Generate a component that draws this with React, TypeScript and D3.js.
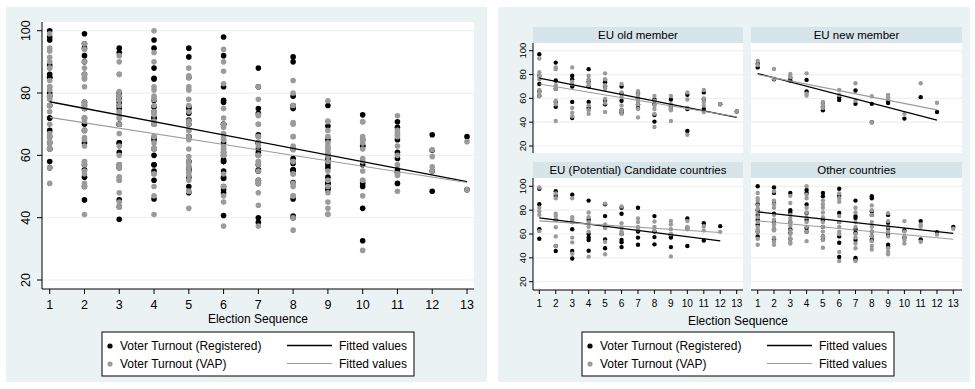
import React from "react";
import * as d3 from "d3";

type Pt = [number, number];
type Col = [number, number[]];

// ---------- data (election sequence, turnout %) ----------
const seqTicks = [1, 2, 3, 4, 5, 6, 7, 8, 9, 10, 11, 12, 13];
const yTicks = [20, 40, 60, 80, 100];
const panelTitles = ["EU old member", "EU new member", "EU (Potential) Candidate countries", "Other countries"];
const xTitle = "Election Sequence";
const legendLabels = ["Voter Turnout (Registered)", "Voter Turnout (VAP)", "Fitted values", "Fitted values"];

const oldReg: Col[] = [
  [1, [97, 79, 72, 66, 62]], [2, [90, 75, 68, 57, 53]], [3, [79, 76, 70, 57, 43.5]],
  [4, [84.5, 74, 70, 57, 52]], [5, [75.5, 73.5, 70, 58, 55]], [6, [70, 64, 58, 50, 48]],
  [7, [64, 60, 55, 52]], [8, [59, 55.4, 46, 40.5]], [9, [59, 53, 51]], [10, [63, 51, 32.6]],
  [11, [65, 59, 51]], [12, [55]], [13, [49]],
];
const oldVap: Col[] = [
  [1, [93.5, 82, 79, 76, 67, 64.5, 62]], [2, [86, 84.5, 71, 68, 58, 55, 41]], [3, [86, 74, 72, 52, 48, 45]],
  [4, [79, 76, 73, 71, 54, 50, 47]], [5, [81, 76, 71, 68, 59.6, 56, 48.5]], [6, [72, 65, 61, 54, 50, 47]],
  [7, [66, 63, 60, 58, 55, 51, 44]], [8, [62, 58, 54, 51, 47, 36]], [9, [62, 55, 52, 50, 41]],
  [10, [65, 59, 52, 29.5]], [11, [67, 60, 57, 54, 48.5]], [12, [55]], [13, [49]],
];
const newReg: Col[] = [
  [1, [89, 86]], [2, [76]], [3, [75, 77]], [4, [75.5, 65.7]], [5, [56, 53, 50]], [6, [58.6, 61]],
  [7, [66.6, 55.4]], [8, [55.4, 40]], [9, [56, 58]], [10, [43]], [11, [61]], [12, [48.5]],
];
const newVap: Col[] = [
  [1, [91.5, 88]], [2, [84.7, 76.5]], [3, [80.5, 79, 77.7]], [4, [81, 64, 62.4]], [5, [57, 54.5, 52]],
  [6, [67, 62.8]], [7, [72.7, 58]], [8, [61.8, 40]], [9, [62.9, 61, 59.6]], [10, [47]], [11, [72.7]], [12, [56.3]],
];
const candReg: Col[] = [
  [1, [98, 85, 64, 56]], [2, [95.8, 92, 72, 50, 45.7]], [3, [93, 70, 64, 45.7, 39.5]],
  [4, [88, 72, 60, 57, 55, 46]], [5, [85, 75, 66, 55.4, 48]], [6, [82, 77, 60, 55, 53, 49]],
  [7, [82, 62, 57, 51]], [8, [75, 62, 57.4, 51.3]], [9, [59, 57, 49]], [10, [73, 65, 50]],
  [11, [69, 54.6]], [12, [66.6]],
];
const candVap: Col[] = [
  [1, [99, 82, 79, 76, 62.4]], [2, [94, 90, 77, 75, 72, 65.7, 58, 50]], [3, [90, 74, 72, 70, 57, 53, 43.4]],
  [4, [78, 74, 70, 66, 62, 41]], [5, [85.5, 68, 65, 53.5, 43]], [6, [83, 69, 65, 62, 60]],
  [7, [73, 70, 66, 64]], [8, [70.5, 66, 63]], [9, [71, 68, 64, 60, 41.2]], [10, [70.8, 66, 64]],
  [11, [66.6, 63]], [12, [61.8]],
];
const otherReg: Col[] = [
  [1, [100, 85, 80, 76, 72, 68, 62, 58]], [2, [99, 94.4, 86, 77, 70, 64, 55.4]], [3, [94.4, 80, 78, 70, 64, 61, 56]],
  [4, [97, 94.4, 84.7, 77.7, 72, 65, 62]], [5, [94.4, 91.6, 71.3, 66, 58, 55.4]], [6, [98, 92, 77.7, 70, 58, 52.6, 40.7]],
  [7, [88, 75, 73.5, 64, 61, 55, 40, 38.5]], [8, [91.6, 90, 79, 76, 62, 58, 55]], [9, [76, 69.4, 65, 60, 51, 49.5]],
  [10, [63, 57]], [11, [70.8, 55.4]], [12, [61.6]], [13, [66]],
];
const otherVap: Col[] = [
  [1, [94.4, 90, 88, 84, 81, 78, 74, 70, 66, 64, 62, 56, 51]], [2, [95.8, 88, 85, 82, 76, 72, 68, 65, 63, 57, 54, 51]],
  [3, [92, 86, 76, 73, 70, 67, 63, 60, 56, 53, 52]], [4, [100, 93, 90, 82, 78, 74, 70, 66, 62, 54]],
  [5, [88, 85, 82, 78, 74, 70, 66, 62, 58, 55, 48.5]], [6, [94, 90, 87, 75, 70, 66, 62, 60, 45, 37.3]],
  [7, [82, 78, 70, 66, 60, 57, 52, 48, 37.3]], [8, [84, 80, 76, 70, 66, 62, 58, 54, 50, 47]],
  [9, [77.5, 70.8, 66, 62, 58, 48, 45, 43]], [10, [70.8, 62, 58, 55, 52]], [11, [68, 66, 53.5]], [12, [59.6]], [13, [64.4]],
];

// fitted lines (start, end)
const fitAllReg: Pt[] = [[1, 77.2], [13, 51.6]];
const fitAllVap: Pt[] = [[1, 72.2], [13, 51.3]];
const fitOldReg: Pt[] = [[1, 76.9], [13, 44.1]];
const fitOldVap: Pt[] = [[1, 72.1], [13, 44.6]];
const fitNewReg: Pt[] = [[1, 80.8], [12, 41.8]];
const fitNewVap: Pt[] = [[1, 80.0], [12, 50.3]];
const fitCandReg: Pt[] = [[1, 73.6], [12, 54.2]];
const fitCandVap: Pt[] = [[1, 71.0], [12, 61.3]];
const fitOtherReg: Pt[] = [[1, 78.6], [13, 60.5]];
const fitOtherVap: Pt[] = [[1, 71.0], [13, 55.6]];

const expand = (c: Col[]): Pt[] => c.flatMap(([s, vs]) => vs.map((v) => [s, v] as Pt));

const BG = "#eaf2f3";
const STRIP = "#d7e4e9";
const GRAY = "#9b9b9b";
const FONT = "Arial, 'Liberation Sans', Helvetica, sans-serif";

type Scale = d3.ScaleLinear<number, number>;

function Scatter({ x, y, reg, vap, fitReg, fitVap, r }: {
  x: Scale; y: Scale; reg: Pt[]; vap: Pt[]; fitReg: Pt[]; fitVap: Pt[]; r: number;
}) {
  const line = d3.line<Pt>().x((d) => x(d[0])).y((d) => y(d[1]));
  return (
    <g>
      {reg.map((d, i) => <circle key={"r" + i} cx={x(d[0])} cy={y(d[1])} r={r} fill="#000" />)}
      {vap.map((d, i) => <circle key={"v" + i} cx={x(d[0])} cy={y(d[1])} r={r} fill={GRAY} />)}
      <path d={line(fitReg) || ""} stroke="#000" strokeWidth={1.3} fill="none" />
      <path d={line(fitVap) || ""} stroke={GRAY} strokeWidth={1.1} fill="none" />
    </g>
  );
}

function Legend({ x0, y0 }: { x0: number; y0: number }) {
  return (
    <g fontFamily={FONT} fontSize={12}>
      <rect x={x0} y={y0} width={312} height={44} fill="#fff" stroke="#000" strokeWidth={1} />
      <circle cx={x0 + 8} cy={y0 + 14} r={2.6} fill="#000" />
      <circle cx={x0 + 8} cy={y0 + 32} r={2.6} fill={GRAY} />
      <text x={x0 + 18} y={y0 + 18}>{legendLabels[0]}</text>
      <text x={x0 + 18} y={y0 + 36.3}>{legendLabels[1]}</text>
      <line x1={x0 + 185} x2={x0 + 230} y1={y0 + 13.5} y2={y0 + 13.5} stroke="#000" strokeWidth={1.3} />
      <line x1={x0 + 185} x2={x0 + 230} y1={y0 + 31.5} y2={y0 + 31.5} stroke={GRAY} strokeWidth={1.1} />
      <text x={x0 + 237} y={y0 + 18}>{legendLabels[2]}</text>
      <text x={x0 + 237} y={y0 + 36.3}>{legendLabels[3]}</text>
    </g>
  );
}

function LeftPanel() {
  const x = d3.scaleLinear().domain([1, 13]).range([49.7, 467]);
  const y = d3.scaleLinear().domain([20, 100]).range([280, 30.7]);
  const L = 42, R = 474, T = 22, B = 289;
  const reg = [...expand(oldReg), ...expand(newReg), ...expand(candReg), ...expand(otherReg)];
  const vap = [...expand(oldVap), ...expand(newVap), ...expand(candVap), ...expand(otherVap)];
  return (
    <g>
      <rect x={6} y={7} width={481} height={375} fill={BG} />
      <rect x={L} y={T} width={R - L} height={B - T} fill="#fff" />
      {yTicks.map((t) => (
        <line key={t} x1={L} x2={R} y1={y(t)} y2={y(t)} stroke={BG} strokeWidth={1.2} />
      ))}
      <Scatter x={x} y={y} reg={reg} vap={vap} fitReg={fitAllReg} fitVap={fitAllVap} r={2.8} />
      <line x1={L} x2={L} y1={T} y2={B} stroke="#000" />
      <line x1={L} x2={R} y1={B} y2={B} stroke="#000" />
      <g fontFamily={FONT} fontSize={12.5} fill="#000">
        {yTicks.map((t) => (
          <g key={t}>
            <line x1={L - 5} x2={L} y1={y(t)} y2={y(t)} stroke="#000" />
            <text transform={`translate(30,${y(t)}) rotate(-90)`} textAnchor="middle">{t}</text>
          </g>
        ))}
        {seqTicks.map((t) => (
          <g key={t}>
            <line x1={x(t)} x2={x(t)} y1={B} y2={B + 5} stroke="#000" />
            <text x={x(t)} y={308.5} textAnchor="middle">{t}</text>
          </g>
        ))}
      </g>
      <text x={258} y={322.5} textAnchor="middle" fontFamily={FONT} fontSize={12}>{xTitle}</text>
      <Legend x0={102} y0={332} />
    </g>
  );
}

function RightPanel() {
  const cols = [
    { L: 533, R: 743, x: d3.scaleLinear().domain([1, 13]).range([539.3, 736.7]) },
    { L: 751, R: 962, x: d3.scaleLinear().domain([1, 13]).range([757.7, 953.3]) },
  ];
  const rows = [
    { hT: 27, T: 43, B: 153, y: d3.scaleLinear().domain([20, 100]).range([146, 50.7]) },
    { hT: 162, T: 178, B: 290, y: d3.scaleLinear().domain([20, 100]).range([281.7, 186.3]) },
  ];
  const groups = [
    { reg: oldReg, vap: oldVap, fr: fitOldReg, fv: fitOldVap },
    { reg: newReg, vap: newVap, fr: fitNewReg, fv: fitNewVap },
    { reg: candReg, vap: candVap, fr: fitCandReg, fv: fitCandVap },
    { reg: otherReg, vap: otherVap, fr: fitOtherReg, fv: fitOtherVap },
  ];
  return (
    <g>
      <rect x={498} y={7} width={472} height={375} fill={BG} />
      {groups.map((g, i) => {
        const c = cols[i % 2];
        const r = rows[Math.floor(i / 2)];
        const bottom = i >= 2;
        const left = i % 2 === 0;
        return (
          <g key={i}>
            <rect x={c.L} y={r.hT} width={c.R - c.L} height={r.T - r.hT} fill={STRIP} />
            <text x={(c.L + c.R) / 2} y={r.hT + 12} textAnchor="middle" fontFamily={FONT} fontSize={11.5}>
              {panelTitles[i]}
            </text>
            <rect x={c.L} y={r.T} width={c.R - c.L} height={r.B - r.T} fill="#fff" />
            {yTicks.map((t) => (
              <line key={t} x1={c.L} x2={c.R} y1={r.y(t)} y2={r.y(t)} stroke={BG} strokeWidth={1.2} />
            ))}
            <Scatter x={c.x} y={r.y} reg={expand(g.reg)} vap={expand(g.vap)} fitReg={g.fr} fitVap={g.fv} r={2.2} />
            {left && (
              <g fontFamily={FONT} fontSize={9.5}>
                <line x1={c.L} x2={c.L} y1={r.T} y2={r.B} stroke="#000" />
                {yTicks.map((t) => (
                  <g key={t}>
                    <line x1={c.L - 4} x2={c.L} y1={r.y(t)} y2={r.y(t)} stroke="#000" />
                    <text transform={`translate(525.5,${r.y(t)}) rotate(-90)`} textAnchor="middle">{t}</text>
                  </g>
                ))}
              </g>
            )}
            {bottom && (
              <g fontFamily={FONT} fontSize={10}>
                <line x1={c.L} x2={c.R} y1={r.B} y2={r.B} stroke="#000" />
                {seqTicks.map((t) => (
                  <g key={t}>
                    <line x1={c.x(t)} x2={c.x(t)} y1={r.B} y2={r.B + 4} stroke="#000" />
                    <text x={c.x(t)} y={306.7} textAnchor="middle">{t}</text>
                  </g>
                ))}
              </g>
            )}
          </g>
        );
      })}
      <text x={738} y={324.5} textAnchor="middle" fontFamily={FONT} fontSize={12}>{xTitle}</text>
      <Legend x0={582} y0={332} />
    </g>
  );
}

export default function App() {
  return (
    <svg width={975} height={389} style={{ position: "absolute", left: 0, top: 0, background: "#fff" }}>
      <LeftPanel />
      <RightPanel />
    </svg>
  );
}
